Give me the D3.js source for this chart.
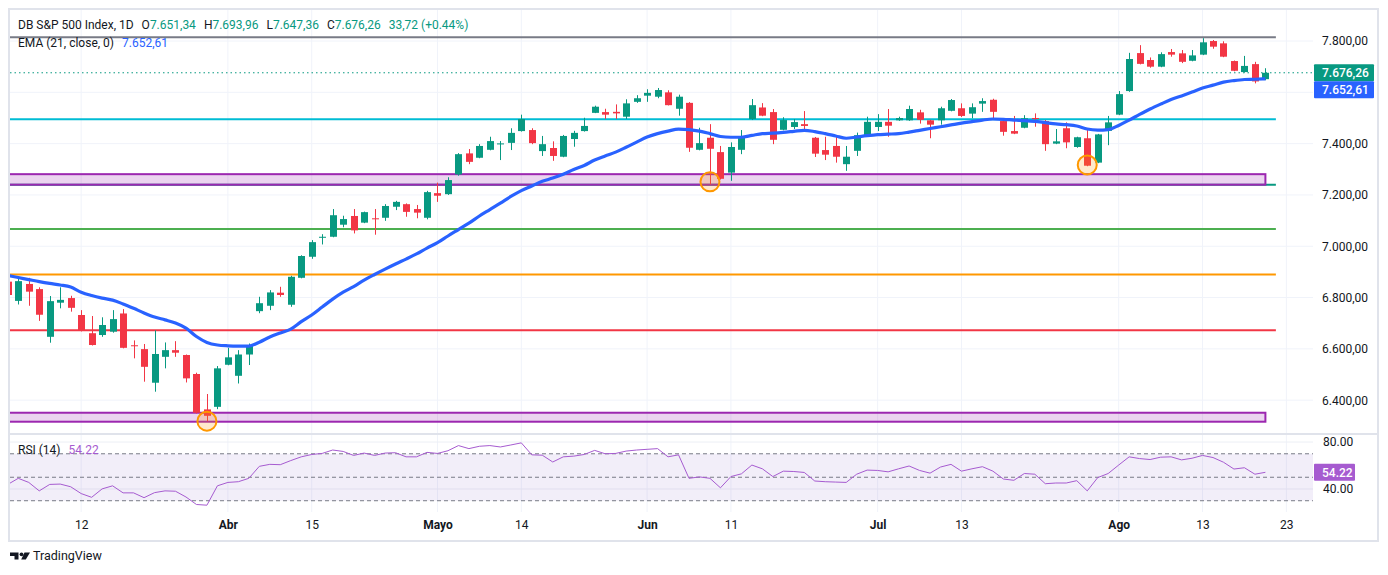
<!DOCTYPE html>
<html lang="es">
<head>
<meta charset="UTF-8">
<title>DB S&amp;P 500 Index</title>
<script src="https://d3js.org/d3.v7.min.js"></script>
<style>
  body { margin: 0; background: #fff; }
  svg { display: block; font-family: Roboto, "Liberation Sans", sans-serif; }
</style>
</head>
<body>
<div id="container"></div>
<script>
// daily candles
var opens = [6862,6787,6853,6833,6647,6780,6798,6732,6661,6654,6667,6738,6614,6599,6468,6569,6595,6576,6502,6364,
  6374,6538,6495,6578,6747,6768,6819,6772,6877,6959,7033,7037,7084,7118,7092,7109,7111,7154,7164,7145,
  7111,7207,7203,7280,7362,7345,7376,7397,7403,7449,7453,7371,7383,7349,7418,7449,7520,7523,7524,7505,
  7563,7587,7583,7600,7536,7559,7376,7423,7367,7287,7376,7496,7541,7523,7454,7465,7476,7423,7375,7391,
  7320,7372,7431,7465,7485,7491,7491,7522,7491,7491,7528,7538,7517,7556,7571,7488,7449,7462,7500,7488,
  7400,7460,7387,7421,7326,7450,7513,7605,7753,7726,7700,7757,7752,7723,7747,7800,7791,7722,7679,7710,
  7651.34];
var highs = [6875,6881,6877,6840,6806,6840,6807,6751,6728,6723,6751,6755,6633,6619,6672,6625,6630,6578,6507,6424,
  6533,6604,6595,6621,6803,6829,6842,6885,6965,7024,7047,7145,7119,7145,7135,7145,7164,7177,7167,7161,
  7216,7248,7269,7363,7379,7398,7427,7410,7460,7513,7460,7430,7409,7434,7450,7501,7548,7536,7553,7573,
  7589,7612,7617,7608,7591,7562,7462,7476,7391,7405,7453,7574,7558,7535,7503,7496,7527,7426,7427,7427,
  7391,7443,7505,7515,7535,7505,7548,7532,7493,7544,7574,7557,7557,7577,7575,7490,7508,7511,7518,7492,
  7457,7483,7427,7453,7438,7508,7605,7754,7784,7736,7756,7769,7765,7765,7811,7804,7799,7724,7742,7719,
  7693.96];
var lows = [6805,6773,6768,6709,6624,6758,6745,6668,6613,6647,6663,6602,6563,6472,6433,6524,6569,6469,6348,6318,
  6365,6536,6465,6537,6739,6751,6803,6764,6875,6951,7007,7035,7074,7050,7090,7045,7099,7141,7115,7109,
  7105,7173,7200,7275,7320,7343,7374,7336,7375,7447,7398,7352,7333,7347,7388,7447,7519,7496,7496,7496,
  7559,7563,7577,7549,7509,7368,7374,7241,7260,7255,7359,7492,7507,7398,7452,7457,7456,7348,7336,7326,
  7294,7352,7429,7449,7427,7489,7489,7478,7421,7474,7526,7504,7499,7524,7499,7431,7437,7460,7466,7372,
  7398,7382,7384,7312,7324,7394,7511,7602,7709,7696,7698,7739,7714,7721,7745,7770,7737,7682,7677,7635,
  7647.36];
var closes = [6810,6864,6823,6733,6786,6791,6760,6670,6615,6693,6716,6604,6611,6530,6580,6595,6585,6485,6351,6339,
  6524,6567,6578,6615,6778,6820,6810,6881,6962,7016,7037,7121,7106,7062,7133,7105,7157,7173,7134,7131,
  7211,7197,7258,7359,7329,7391,7410,7401,7442,7496,7402,7398,7352,7430,7442,7469,7544,7513,7518,7557,
  7577,7598,7609,7550,7583,7384,7402,7380,7263,7387,7426,7550,7509,7415,7492,7484,7469,7361,7357,7349,
  7349,7433,7485,7485,7470,7500,7535,7493,7474,7538,7570,7508,7542,7566,7524,7446,7439,7499,7496,7398,
  7409,7405,7425,7314,7436,7483,7593,7730,7711,7700,7749,7747,7719,7744,7795,7778,7739,7684,7703,7642.54,
  7676.26];

// EMA(21) as drawn on the chart
var ema21 = [6886,6878,6870,6862,6855,6849,6841,6821,6808,6798,6790,6775,6758,6740,6724,6713,6701,6681,6648,6625,
  6615,6612,6611,6611,6626,6646,6662,6677,6706,6732,6763,6794,6821,6843,6868,6890,6911,6931,6950,6970,
  6993,7014,7040,7065,7090,7118,7143,7168,7194,7217,7235,7253,7266,7281,7299,7315,7336,7352,7367,7386,
  7406,7426,7439,7449,7457,7455,7449,7439,7428,7425,7425,7432,7439,7441,7444,7448,7452,7447,7439,7430,
  7421,7426,7431,7435,7437,7439,7445,7452,7459,7466,7473,7480,7486,7492,7496,7495,7492,7490,7487,7482,
  7477,7474,7469,7457,7453,7455,7471,7492,7514,7535,7554,7572,7586,7601,7617,7628,7640,7646,7650,7651,
  7652.61];

// RSI(14)
var rsi14 = [43.9,49.1,45.6,38.4,43.9,44.2,41.9,36.1,32.9,40.1,42.7,36.7,36.7,32.6,36.9,38.4,38.1,33.2,26.8,26.2,
  42.7,45.6,46.2,49.1,59.3,61.0,60.7,64.2,67.4,69.4,70.3,73.2,72.0,68.6,70.6,68.6,70.6,70.9,67.4,67.4,
  71.2,70.3,72.6,77.0,74.4,76.4,77.0,75.8,77.5,79.3,69.1,68.8,63.0,67.4,68.0,69.4,72.9,70.0,70.3,72.3,
  73.2,73.8,74.4,67.4,69.1,49.1,50.3,49.1,41.0,50.6,52.9,60.4,57.2,50.6,55.2,54.9,54.1,46.8,46.2,45.9,
  45.6,52.6,56.1,55.8,54.6,57.2,59.6,55.8,53.5,58.7,61.0,55.2,57.2,59.0,55.2,48.5,47.4,53.2,52.6,44.5,
  45.1,45.1,47.1,38.4,49.7,53.2,60.4,67.4,65.9,65.1,67.1,67.4,64.8,66.2,68.6,66.8,62.8,57.0,58.1,52.6,
  54.22];

var tickIdx = [7, 21, 29, 41, 49, 61, 69, 83, 91, 106, 114, 122];
var tickLabels = ["12", "Abr", "15", "Mayo", "14", "Jun", "11", "Jul", "13", "Ago", "13", "23"];
var monthLabels = ["Abr", "Mayo", "Jun", "Jul", "Ago"];

var priceGrid = [6400, 6600, 6800, 7000, 7200, 7400, 7600, 7800];
var priceTicks = [6400, 6600, 6800, 7000, 7200, 7400, 7800];   // 7.600 sits under the badges
var rsiGrid = [40, 80];
var rsiBands = [30, 50, 70];

var levelPrices = [7815, 7495, 7240, 7067, 6890, 6673];
var levelColors = ["#787b86", "#00bcd4", "#089981", "#4caf50", "#ff9800", "#f23645"];
var levelEnd = 121;
var zoneTops = [7281, 6351];
var zoneBottoms = [7240, 6316];
var zoneEnd = 120;
var markIdx = [19, 67, 103];
var markPrice = [6318, 7251, 7317];

var up = "#089981", down = "#f23645", emaColor = "#2962ff", rsiColor = "#a65bd0", txt = "#131722";
var W = 1388, H = 575;
var left = 10, plotRight = 1313, frameRight = 1378;
var mainTop = 10, mainBottom = 433, rsiTop = 435, rsiBottom = 512, frameBottom = 541;

var loc = d3.formatLocale({decimal: ",", thousands: ".", grouping: [3], currency: ["", ""]});
var fmt = loc.format(",.2f");

var x = d3.scaleLinear().domain([0, 120]).range([7.8, 1265.4]);
var y = d3.scaleLinear().domain([6272, 7921]).range([mainBottom, mainTop]);
var yr = d3.scaleLinear().domain([20.4, 86]).range([rsiBottom, rsiTop]);
var idx = d3.range(closes.length);

var svg = d3.select("#container").append("svg").attr("width", W).attr("height", H);

svg.append("defs").append("clipPath").attr("id", "clipMain")
  .append("rect").attr("x", left).attr("y", mainTop).attr("width", plotRight - left).attr("height", mainBottom - mainTop);
svg.select("defs").append("clipPath").attr("id", "clipRsi")
  .append("rect").attr("x", left).attr("y", rsiTop).attr("width", plotRight - left).attr("height", rsiBottom - rsiTop);

// grid
svg.append("g").selectAll("line").data(tickIdx).enter().append("line")
  .attr("x1", d => x(d)).attr("x2", d => x(d)).attr("y1", mainTop).attr("y2", rsiBottom)
  .attr("stroke", "#f0f3fa");
svg.append("g").selectAll("line").data(priceGrid).enter().append("line")
  .attr("x1", left).attr("x2", plotRight).attr("y1", d => y(d)).attr("y2", d => y(d))
  .attr("stroke", "#f0f3fa");
svg.append("g").selectAll("line").data(rsiGrid).enter().append("line")
  .attr("x1", left).attr("x2", plotRight).attr("y1", d => yr(d)).attr("y2", d => yr(d))
  .attr("stroke", "#eceff5");

// frame
svg.append("rect").attr("x", 9).attr("y", 9).attr("width", frameRight - 9).attr("height", frameBottom - 9)
  .attr("fill", "none").attr("stroke", "#e0e3eb").attr("stroke-width", 2);
svg.append("line").attr("x1", 9).attr("x2", frameRight).attr("y1", 434).attr("y2", 434)
  .attr("stroke", "#e0e3eb").attr("stroke-width", 2);

var main = svg.append("g").attr("clip-path", "url(#clipMain)");

// horizontal levels and zones
main.append("g").selectAll("line").data(levelPrices).enter().append("line")
  .attr("x1", left).attr("x2", x(levelEnd)).attr("y1", d => y(d)).attr("y2", d => y(d))
  .attr("stroke", (d, i) => levelColors[i]).attr("stroke-width", 2);
main.append("g").selectAll("rect").data(zoneTops).enter().append("rect")
  .attr("x", 0).attr("width", x(zoneEnd))
  .attr("y", d => y(d)).attr("height", (d, i) => y(zoneBottoms[i]) - y(d))
  .attr("fill", "rgba(156,39,176,0.2)").attr("stroke", "#9c27b0").attr("stroke-width", 2);

// last price line
main.append("line").attr("x1", left).attr("x2", plotRight)
  .attr("y1", y(closes[closes.length - 1])).attr("y2", y(closes[closes.length - 1]))
  .attr("stroke", up).attr("stroke-dasharray", "1.5,3");

// candles
var bw = 7;
var cg = main.append("g").selectAll("g").data(idx).enter().append("g")
  .attr("fill", i => closes[i] >= opens[i] ? up : down)
  .attr("stroke", i => closes[i] >= opens[i] ? up : down);
cg.append("line")
  .attr("x1", i => Math.round(x(i)) + 0.5).attr("x2", i => Math.round(x(i)) + 0.5)
  .attr("y1", i => y(highs[i])).attr("y2", i => y(lows[i]));
cg.append("rect")
  .attr("stroke", "none")
  .attr("x", i => Math.round(x(i)) + 0.5 - bw / 2).attr("width", bw)
  .attr("y", i => y(Math.max(opens[i], closes[i])))
  .attr("height", i => Math.max(1, Math.abs(y(opens[i]) - y(closes[i]))));

// EMA
main.append("path").datum(idx)
  .attr("fill", "none").attr("stroke", emaColor).attr("stroke-width", 3.2)
  .attr("d", d3.line().x(i => x(i)).y(i => y(ema21[i])).curve(d3.curveMonotoneX));

// circle markers
main.append("g").selectAll("circle").data(markIdx).enter().append("circle")
  .attr("cx", d => x(d)).attr("cy", (d, i) => y(markPrice[i])).attr("r", 9.5)
  .attr("fill", "rgba(255,152,0,0.2)").attr("stroke", "#ff9800").attr("stroke-width", 2);

// RSI panel
var rp = svg.append("g").attr("clip-path", "url(#clipRsi)");
rp.append("rect").attr("x", left).attr("width", plotRight - left)
  .attr("y", yr(70)).attr("height", yr(30) - yr(70)).attr("fill", "rgba(126,87,194,0.1)");
rp.append("g").selectAll("line").data(rsiBands).enter().append("line")
  .attr("x1", left).attr("x2", plotRight).attr("y1", d => yr(d)).attr("y2", d => yr(d))
  .attr("stroke", "#787b86").attr("stroke-dasharray", "4,3");
rp.append("path").datum(idx)
  .attr("fill", "none").attr("stroke", rsiColor).attr("stroke-width", 1)
  .attr("d", d3.line().x(i => x(i)).y(i => yr(rsi14[i])));

// axes
var ax = svg.append("g").attr("transform", "translate(" + plotRight + ",0)")
  .call(d3.axisRight(y).tickValues(priceTicks).tickFormat(fmt).tickSize(0).tickPadding(9));
var rax = svg.append("g").attr("transform", "translate(" + plotRight + ",0)")
  .call(d3.axisRight(yr).tickValues(rsiGrid).tickFormat(d3.format(".2f")).tickSize(0).tickPadding(10));
var bx = svg.append("g").attr("transform", "translate(0," + (rsiBottom + 2) + ")")
  .call(d3.axisBottom(x).tickValues(tickIdx).tickFormat((d, i) => tickLabels[i]).tickSize(0).tickPadding(6));
[ax, rax, bx].forEach(function (g) {
  g.select(".domain").remove();
  g.selectAll("text").attr("fill", txt).attr("font-size", 12).attr("font-family", "Roboto, sans-serif");
});
bx.selectAll("text").attr("font-weight", d => monthLabels.indexOf(tickLabels[tickIdx.indexOf(d)]) >= 0 ? 700 : 400);

// price badges
var last = closes.length - 1;
var bh = 17;
var cy1 = y(closes[last]);
var cy2 = Math.max(y(ema21[last]), cy1 + bh);
function badge(cy, color, label, w) {
  svg.append("rect").attr("x", plotRight + 1).attr("y", cy - bh / 2).attr("width", w).attr("height", bh)
    .attr("rx", 1).attr("fill", color);
  svg.append("text").attr("x", plotRight + 9).attr("y", cy + 4.5).attr("fill", "#fff")
    .attr("font-size", 12).attr("font-weight", 500).text(label);
}
badge(cy1, up, fmt(closes[last]), 60);
badge(cy2, emaColor, fmt(ema21[last]), 60);
badge(yr(rsi14[last]), rsiColor, d3.format(".2f")(rsi14[last]), 41);

// legends
var chg = closes[last] - closes[last - 1];
var pct = chg / closes[last - 1] * 100;
var hd = svg.append("text").attr("x", 18).attr("y", 29).attr("font-size", 12).attr("fill", txt);
hd.append("tspan").text("DB S&P 500 Index, 1D");
[["O", opens[last]], ["H", highs[last]], ["L", lows[last]], ["C", closes[last]]].forEach(function (p) {
  hd.append("tspan").attr("dx", 8).text(p[0]);
  hd.append("tspan").attr("fill", up).text(fmt(p[1]));
});
hd.append("tspan").attr("dx", 8).attr("fill", up)
  .text(fmt(chg) + " (" + (chg >= 0 ? "+" : "") + pct.toFixed(2) + "%)");

var el = svg.append("text").attr("x", 18).attr("y", 47).attr("font-size", 12).attr("fill", txt);
el.append("tspan").text("EMA (21, close, 0)");
el.append("tspan").attr("dx", 8).attr("fill", emaColor).text(fmt(ema21[last]));

var rl = svg.append("text").attr("x", 18).attr("y", 454).attr("font-size", 12).attr("fill", txt);
rl.append("tspan").text("RSI (14)");
rl.append("tspan").attr("dx", 8).attr("fill", rsiColor).text(d3.format(".2f")(rsi14[last]));

// TradingView mark
var logo = svg.append("g").attr("fill", txt);
logo.append("path").attr("d", "M10 552.5h8.5v7h-4v-3.5h-4.5z");
logo.append("circle").attr("cx", 21.5).attr("cy", 554.3).attr("r", 1.9);
logo.append("path").attr("d", "M24.5 552.5h5.5l-4.2 7h-4.6z");
svg.append("text").attr("x", 33).attr("y", 560).attr("font-size", 12.5).attr("fill", txt).text("TradingView");
</script>
</body>
</html>
